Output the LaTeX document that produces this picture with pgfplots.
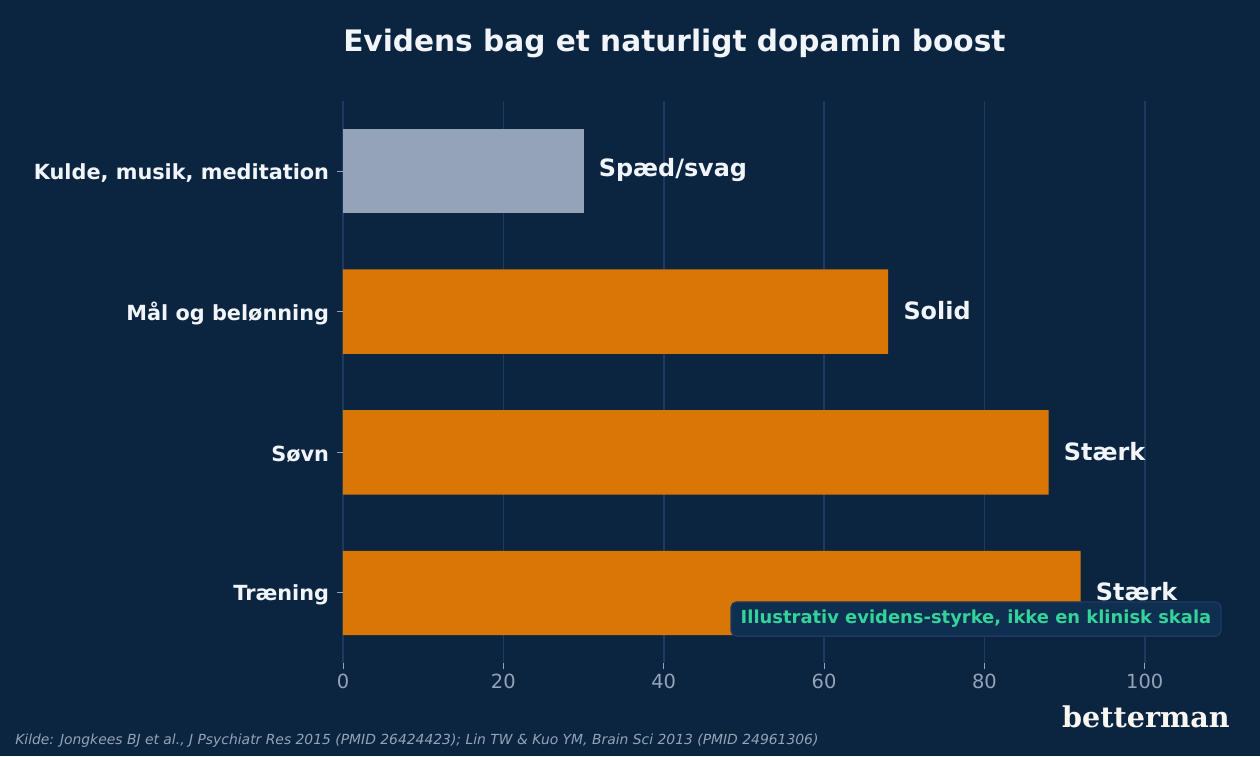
\documentclass[border=0pt]{standalone}
\usepackage{pgfplots}
\pgfplotsset{compat=1.18}
\usepackage{fontspec}
\setmainfont{DejaVu Sans}
\newfontfamily\logofont{DejaVu Serif}
\definecolor{bg}{HTML}{0B2540}
\definecolor{gridc}{HTML}{1E3A60}
\definecolor{orangebar}{HTML}{D97706}
\definecolor{graybar}{HTML}{94A3B8}
\definecolor{tickc}{HTML}{94A3B8}
\definecolor{txt}{HTML}{F1F5F9}
\definecolor{boxfill}{HTML}{0F2F50}
\definecolor{boxedge}{HTML}{1E3A60}
\definecolor{greentxt}{HTML}{34D399}
\definecolor{logoc}{HTML}{FAF7F2}
\begin{document}
\begin{tikzpicture}[x=1pt,y=1pt]
\fill[bg] (0,0) rectangle (907.2,544.32);
\begin{axis}[
  at={(246.96pt,66.74pt)}, anchor=south west,
  scale only axis, width=635pt, height=405.1pt,
  xbar, bar width=0.6,
  xmin=0, xmax=110, ymin=-0.5, ymax=3.5,
  ytick={0,1,2,3},
  yticklabels={Træning,Søvn,Mål og belønning,{Kulde, musik, meditation}},
  xtick={0,20,40,60,80,100},
  axis line style={draw=none},
  xtick pos=lower, ytick pos=left,
  tick align=outside, major tick length=4pt,
  tick style={color=tickc, line width=0.7pt},
  xmajorgrids, grid style={color=gridc, line width=1.2pt},
  /pgf/number format/assume math mode=true,
  xticklabel style={font=\fontsize{14}{16}\selectfont, text=tickc},
  yticklabel style={font=\bfseries\fontsize{15}{17}\selectfont, text=txt, xshift=-2.5pt, yshift=-1.6pt},
  nodes near coords, point meta=explicit symbolic,
  every node near coord/.append style={font=\bfseries\fontsize{17.2}{20}\selectfont, text=txt, anchor=west, xshift=7.5pt, yshift=0.8pt},
]
\addplot[fill=orangebar, draw=none, bar shift=0pt] table[meta=label] {
x y label
92 0 Stærk
88 1 Stærk
68 2 Solid
};
\addplot[fill=graybar, draw=none, bar shift=0pt] table[meta=label] {
x y label
30 3 Spæd/svag
};
\end{axis}
\node[anchor=base west, text=txt, font=\bfseries\fontsize{21.3}{25}\selectfont, inner sep=0pt] at (246.96, 506.9) {Evidens bag et naturligt dopamin boost};
\node[fill=boxfill, draw=boxedge, rounded corners=4pt, line width=1pt, text=greentxt, font=\bfseries\fontsize{12.9}{15}\selectfont, inner xsep=7pt, inner ysep=6pt] at (702.7, 98.6) {Illustrativ evidens-styrke, ikke en klinisk skala};
\node[anchor=base west, text=tickc, font=\itshape\fontsize{10}{12}\selectfont, inner sep=0pt] at (10.8, 8.6) {Kilde: Jongkees BJ et al., J Psychiatr Res 2015 (PMID 26424423); Lin TW \& Kuo YM, Brain Sci 2013 (PMID 24961306)};
\node[anchor=base east, text=logoc, font=\logofont\bfseries\fontsize{20.6}{24}\selectfont, inner sep=0pt] at (885.6, 20.2) {betterman};
\end{tikzpicture}
\end{document}
